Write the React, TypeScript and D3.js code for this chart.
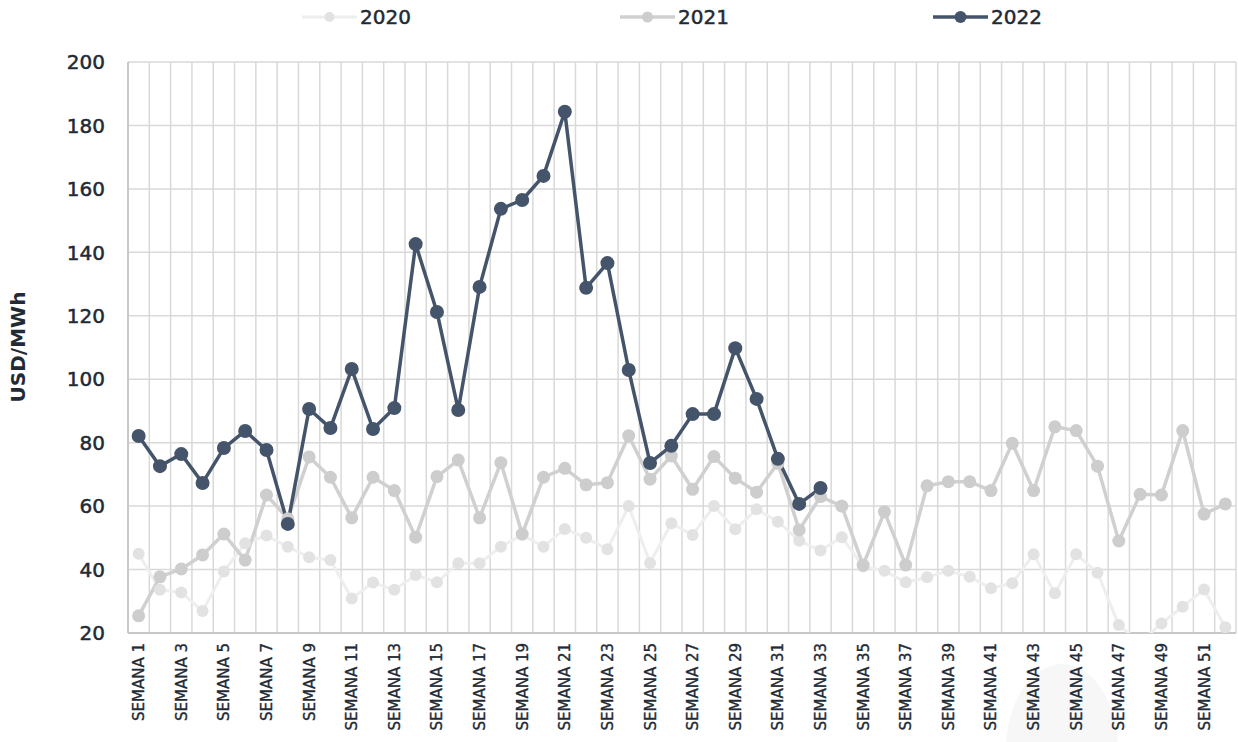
import React, { useEffect } from "react";
import * as d3 from "d3";

const weeks: string[] = Array.from({ length: 52 }, (_, i) => `SEMANA ${i + 1}`);
const yTicks: number[] = [20, 40, 60, 80, 100, 120, 140, 160, 180, 200];

const s2020: number[] = [45, 33.6, 32.8, 26.9, 39.4, 48.3, 50.7, 47.2, 43.9, 43, 30.9, 35.9, 33.6, 38.3, 36, 42, 42, 47.2, 51, 47.2, 52.8, 50, 46.4, 60, 42.1, 54.6, 50.9, 60, 52.7, 59, 55.1, 49.1, 46, 50.2, 41, 39.6, 36, 37.6, 39.6, 37.7, 34.1, 35.7, 44.8, 32.5, 44.8, 39, 22.5, 17, 23, 28.3, 33.7, 21.8];
const s2021: number[] = [25.4, 37.7, 40.2, 44.6, 51.2, 43, 63.5, 56, 75.5, 69.1, 56.3, 69.1, 64.9, 50.2, 69.3, 74.5, 56.3, 73.7, 51.2, 69.1, 71.9, 66.7, 67.4, 82.2, 68.5, 75.8, 65.3, 75.6, 68.8, 64.4, 73.5, 52.5, 63, 60, 41.4, 58.2, 41.4, 66.4, 67.7, 67.7, 64.9, 79.8, 64.9, 85, 83.8, 72.6, 49, 63.7, 63.5, 83.8, 57.5, 60.7];
const s2022: number[] = [82.1, 72.6, 76.4, 67.3, 78.3, 83.7, 77.7, 54.4, 90.6, 84.6, 103.2, 84.3, 90.9, 142.6, 121.2, 90.3, 129.1, 153.7, 156.5, 164.1, 184.3, 128.8, 136.6, 102.9, 73.6, 79, 89, 89, 109.8, 93.8, 74.9, 60.7, 65.7];

const seriesNames = ["2020", "2021", "2022"];

const W = 1238;
const H = 742;
const M = { left: 128, right: 2, top: 62, bottom: 109 };
const FONT = "'DejaVu Sans', 'Noto Sans', sans-serif";
const TXT = "#222a35";

export default function App() {
  useEffect(() => {
    document.body.style.margin = "0";
  }, []);

  const x = d3.scaleBand<string>().domain(weeks).range([M.left, W - M.right]).padding(0);
  const y = d3.scaleLinear().domain([20, 200]).range([H - M.bottom, M.top]);
  const cx = (i: number) => (x(weeks[i]) as number) + x.bandwidth() / 2;

  const line = d3
    .line<number>()
    .x((_, i) => cx(i))
    .y((d) => y(d));

  const styles = [
    { line: "#eeeeee", dot: "#e2e2e2", lw: 3, r: 6 },
    { line: "#d0d0d0", dot: "#cdcdcd", lw: 3.5, r: 6.5 },
    { line: "#44546a", dot: "#44546a", lw: 3.5, r: 7 },
  ];
  const data = [s2020, s2021, s2022];
  const legendX = [302, 620, 933];

  return (
    <svg width={W} height={H} style={{ display: "block" }} fontFamily={FONT}>
      <defs>
        <clipPath id="plot">
          <rect x={M.left} y={M.top} width={W - M.left - M.right} height={H - M.top - M.bottom} />
        </clipPath>
      </defs>
      <rect width={W} height={H} fill="#fff" />
      <ellipse cx={1062} cy={750} rx={56} ry={86} fill="#f7f7f7" />
      {weeks.map((w, i) => (
        <line key={"v" + i} x1={(x(w) as number)} x2={(x(w) as number)} y1={M.top} y2={H - M.bottom} stroke="#d9d9d9" strokeWidth={1.5} />
      ))}
      <line x1={W - M.right} x2={W - M.right} y1={M.top} y2={H - M.bottom} stroke="#d9d9d9" strokeWidth={1.5} />
      {yTicks.map((t) => (
        <line key={"h" + t} x1={M.left} x2={W - M.right} y1={y(t)} y2={y(t)} stroke="#d9d9d9" strokeWidth={1.5} />
      ))}
      <line x1={M.left} x2={M.left} y1={M.top} y2={H - M.bottom} stroke="#bfbfbf" strokeWidth={1.5} />
      <line x1={M.left} x2={W - M.right} y1={H - M.bottom} y2={H - M.bottom} stroke="#bfbfbf" strokeWidth={1.5} />
      {yTicks.map((t) => (
        <text key={"yt" + t} x={105} y={y(t)} dy="0.36em" textAnchor="end" fontSize={20} fill={TXT} stroke={TXT} strokeWidth={0.5}>
          {t}
        </text>
      ))}
      {weeks.map((w, i) =>
        i % 2 === 0 ? (
          <text
            key={"xt" + i}
            transform={`translate(${cx(i) + 5.5},${H - M.bottom + 10}) rotate(-90)`}
            textAnchor="end"
            fontSize={15}
            fill={TXT}
            stroke={TXT}
            strokeWidth={0.35}
          >
            {w}
          </text>
        ) : null
      )}
      <text transform={`translate(25,347) rotate(-90)`} textAnchor="middle" fontSize={20} fontWeight="bold" fill={TXT}>
        USD/MWh
      </text>
      <g clipPath="url(#plot)">
        {data.map((d, k) => (
          <path key={"l" + k} d={line(d) || ""} fill="none" stroke={styles[k].line} strokeWidth={styles[k].lw} strokeLinejoin="round" />
        ))}
        {data.map((d, k) =>
          d.map((v, i) => <circle key={`c${k}-${i}`} cx={cx(i)} cy={y(v)} r={styles[k].r} fill={styles[k].dot} />)
        )}
      </g>
      {seriesNames.map((n, k) => (
        <g key={"lg" + k} transform={`translate(${legendX[k]},17)`}>
          <line x1={0} x2={55} y1={0} y2={0} stroke={styles[k].line} strokeWidth={styles[k].lw} />
          <circle cx={27.5} cy={0} r={styles[k].r - 1} fill={styles[k].dot} />
          <text x={58} y={0} dy="0.36em" fontSize={20} fill={TXT} stroke={TXT} strokeWidth={0.5}>
            {n}
          </text>
        </g>
      ))}
    </svg>
  );
}
